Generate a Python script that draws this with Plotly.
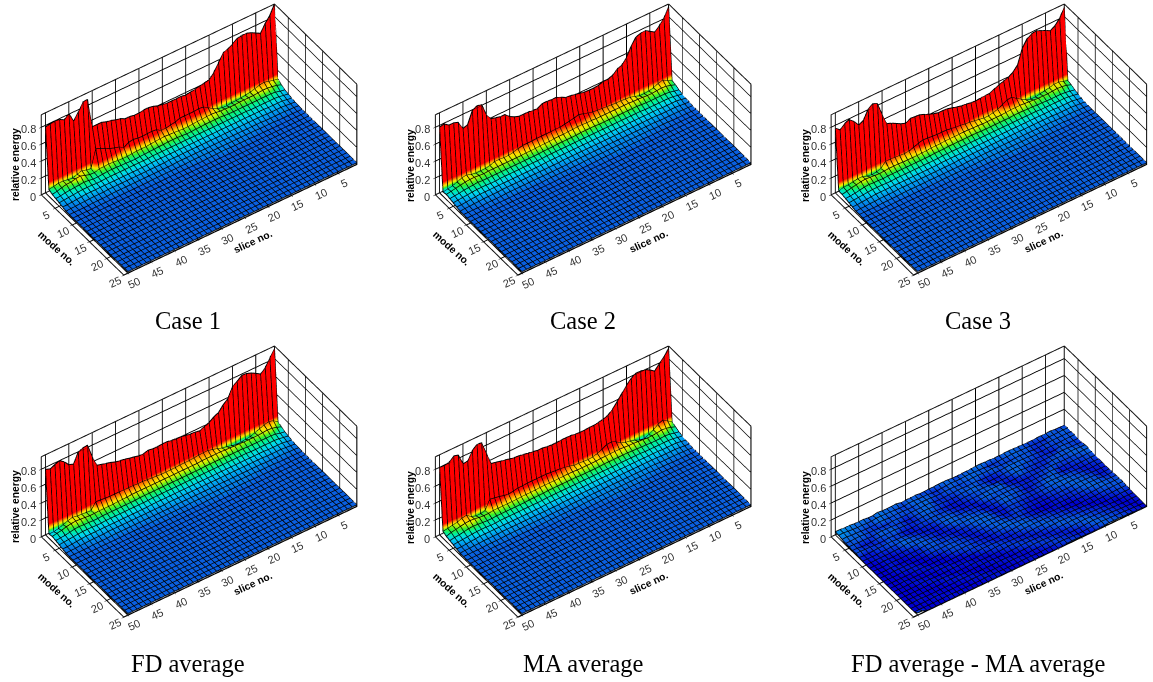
import plotly.graph_objects as go

SLICES = list(range(1, 51))
MODES = list(range(1, 26))
CAPTIONS = ["Case 1", "Case 2", "Case 3", "FD average", "MA average", "FD average - MA average"]
SLICE_TITLE, MODE_TITLE, ENERGY_TITLE = "slice no.", "mode no.", "relative energy"
SLICE_TICKS = [5, 10, 15, 20, 25, 30, 35, 40, 45, 50]
MODE_TICKS = [5, 10, 15, 20, 25]
ENERGY_TICKS = [0, .2, .4, .6, .8]
ENERGY_LABELS = ["0", "0.2", "0.4", "0.6", "0.8"]

# relative energy, slice 1..50
C1_M1 = [.95,.84,.77,.68,.71,.74,.76,.76,.75,.71,.68,.66,.57,.48,.42,.41,.40,.385,.38,.37,.38,.38,.38,.38,.39,.40,.42,.43,.43,.42,.42,.43,.43,.46,.47,.49,.50,.52,.52,.52,.87,.865,.77,.69,.81,.76,.79,.80,.79,.78]
C1_M2 = [.10,.11,.125,.14,.13,.115,.10,.09,.085,.08,.08,.07,.075,.09,.12,.155,.19,.195,.19,.19,.19,.19,.17,.16,.15,.147,.185,.19,.19,.185,.19,.20,.19,.155,.19,.205,.225,.25,.28,.30,.09,.10,.12,.10,.08,.09,.10,.10,.09,.08]
C1_M3 = [.07,.09,.10,.11,.11,.105,.10,.10,.10,.10,.095,.095,.10,.10,.11,.115,.115,.11,.11,.105,.10,.10,.105,.11,.11,.115,.115,.11,.105,.10,.10,.10,.095,.09,.09,.095,.10,.105,.10,.10,.08,.085,.10,.12,.115,.10,.10,.085,.07,.06]
C1_M4 = [.05,.06,.075,.08,.08,.08,.08,.08,.08,.08,.08,.08,.08,.085,.09,.09,.09,.09,.085,.085,.08,.08,.085,.09,.09,.09,.085,.085,.08,.08,.075,.075,.07,.07,.075,.075,.08,.08,.08,.075,.07,.07,.08,.085,.08,.075,.07,.065,.055,.05]

C2_M1 = [.92,.81,.745,.695,.73,.765,.76,.74,.66,.555,.49,.47,.42,.40,.40,.38,.375,.375,.38,.39,.405,.415,.42,.45,.475,.475,.48,.48,.45,.45,.46,.46,.46,.48,.51,.56,.56,.575,.59,.66,.81,.82,.79,.65,.63,.73,.75,.75,.79,.78]
C2_M2 = [.08,.11,.14,.125,.10,.09,.085,.085,.105,.12,.125,.13,.13,.135,.14,.145,.15,.155,.17,.19,.205,.19,.18,.17,.16,.16,.16,.16,.16,.16,.155,.155,.155,.14,.125,.115,.115,.12,.12,.10,.09,.09,.09,.10,.12,.11,.09,.07,.06,.05]
C2_M3 = [.07,.09,.105,.11,.105,.10,.10,.105,.11,.11,.115,.115,.115,.115,.115,.115,.115,.115,.12,.12,.125,.125,.12,.12,.115,.115,.115,.11,.11,.11,.105,.105,.105,.10,.10,.10,.10,.10,.10,.10,.10,.095,.10,.105,.105,.10,.09,.08,.07,.06]
C2_M4 = [.05,.06,.075,.08,.08,.08,.08,.08,.085,.09,.09,.09,.09,.09,.09,.09,.09,.09,.095,.095,.095,.095,.09,.09,.09,.09,.09,.085,.085,.085,.08,.08,.08,.08,.08,.08,.08,.08,.08,.08,.08,.08,.08,.085,.08,.075,.07,.06,.055,.05]

C3_M1 = [.915,.805,.745,.71,.74,.765,.79,.78,.745,.66,.49,.43,.395,.38,.36,.335,.31,.31,.305,.30,.305,.315,.32,.335,.35,.365,.37,.37,.385,.405,.43,.45,.455,.46,.43,.45,.48,.51,.53,.665,.82,.845,.805,.70,.67,.74,.79,.77,.72,.765]
C3_M2 = [.08,.10,.115,.115,.10,.09,.08,.07,.07,.09,.125,.16,.20,.195,.165,.135,.12,.11,.11,.12,.13,.14,.145,.155,.16,.17,.18,.18,.18,.185,.19,.195,.18,.16,.14,.135,.14,.145,.15,.15,.09,.075,.07,.08,.10,.10,.09,.08,.08,.06]
C3_M3 = [.07,.09,.10,.105,.10,.095,.095,.095,.10,.105,.11,.115,.115,.115,.11,.105,.105,.105,.105,.105,.11,.11,.115,.115,.115,.115,.115,.115,.11,.11,.11,.105,.105,.10,.10,.10,.10,.105,.105,.105,.10,.095,.10,.105,.11,.105,.095,.085,.07,.06]
C3_M4 = [.05,.06,.07,.075,.075,.075,.075,.08,.08,.085,.085,.09,.09,.09,.085,.085,.085,.085,.085,.085,.085,.09,.09,.09,.09,.09,.09,.09,.085,.085,.085,.08,.08,.08,.08,.08,.08,.08,.08,.08,.08,.075,.08,.08,.085,.08,.07,.06,.055,.05]

C4_M1 = [.92,.835,.745,.695,.73,.76,.78,.785,.74,.70,.585,.54,.475,.45,.41,.39,.365,.375,.38,.39,.40,.405,.41,.42,.42,.415,.415,.425,.41,.41,.425,.435,.45,.46,.47,.49,.505,.52,.535,.66,.825,.82,.795,.68,.70,.76,.80,.78,.755,.775]
C4_M2 = [.09,.13,.145,.13,.11,.09,.07,.065,.06,.06,.07,.085,.095,.115,.13,.145,.145,.14,.135,.13,.13,.13,.125,.125,.125,.125,.13,.135,.14,.145,.145,.15,.15,.15,.155,.155,.155,.16,.165,.17,.09,.095,.10,.105,.115,.10,.08,.06,.05,.05]
C4_M3 = [.07,.09,.105,.11,.105,.10,.10,.10,.10,.105,.105,.11,.11,.115,.115,.115,.115,.115,.11,.11,.11,.11,.11,.11,.11,.11,.11,.11,.11,.11,.11,.11,.11,.105,.105,.105,.10,.10,.10,.10,.095,.095,.10,.105,.11,.105,.095,.08,.07,.06]
C4_M4 = [.05,.06,.075,.08,.08,.08,.08,.08,.08,.085,.085,.085,.085,.09,.09,.09,.09,.09,.085,.085,.085,.085,.085,.085,.085,.085,.085,.085,.085,.085,.085,.085,.08,.08,.08,.08,.08,.08,.08,.08,.075,.075,.08,.08,.085,.08,.07,.06,.055,.05]

C5_M1 = [.92,.845,.79,.73,.77,.80,.81,.81,.775,.72,.65,.58,.515,.47,.45,.44,.43,.43,.425,.425,.43,.44,.44,.44,.435,.435,.44,.45,.45,.46,.47,.48,.49,.495,.505,.52,.53,.545,.555,.705,.855,.86,.815,.715,.71,.84,.855,.805,.795,.80]
C5_M2 = [.09,.13,.165,.14,.10,.07,.05,.06,.085,.10,.11,.13,.17,.195,.19,.16,.135,.12,.115,.12,.125,.125,.145,.155,.165,.17,.175,.18,.18,.18,.18,.18,.175,.175,.165,.155,.165,.18,.19,.20,.09,.08,.08,.10,.14,.13,.11,.10,.09,.08]
C5_M3 = [.07,.09,.105,.11,.10,.095,.095,.10,.105,.11,.11,.115,.12,.12,.12,.115,.115,.11,.11,.11,.11,.11,.115,.115,.115,.115,.115,.115,.115,.115,.11,.11,.11,.11,.105,.105,.105,.105,.105,.105,.095,.095,.10,.11,.115,.11,.10,.09,.08,.06]
C5_M4 = [.05,.06,.075,.08,.075,.075,.075,.08,.08,.085,.085,.09,.09,.09,.09,.09,.09,.085,.085,.085,.085,.085,.09,.09,.09,.09,.09,.09,.09,.085,.085,.085,.085,.08,.08,.08,.08,.08,.08,.08,.075,.075,.08,.085,.09,.085,.075,.065,.06,.05]

# outer band shared by the five large-amplitude panels
OUTER_M5 = [.04,.05,.06,.065,.065,.065,.065,.065,.065,.07,.07,.07,.07,.07,.07,.07,.07,.07,.07,.07,.07,.07,.07,.07,.07,.07,.07,.07,.07,.07,.065,.065,.065,.065,.065,.065,.065,.065,.065,.065,.06,.06,.065,.065,.065,.06,.055,.05,.045,.04]
OUTER_M6 = [.03,.04,.05,.05,.05,.05,.055,.055,.055,.055,.055,.055,.055,.055,.055,.055,.055,.055,.055,.055,.055,.055,.055,.055,.055,.055,.055,.055,.055,.055,.055,.05,.05,.05,.05,.05,.05,.05,.05,.05,.05,.05,.05,.05,.05,.045,.04,.035,.03,.03]
OUTER_M7 = [.025,.03,.035,.04,.04,.04,.04,.045,.045,.045,.045,.045,.045,.045,.045,.045,.045,.045,.045,.045,.045,.045,.045,.045,.045,.045,.045,.045,.04,.04,.04,.04,.04,.04,.04,.04,.04,.04,.04,.04,.04,.035,.035,.035,.035,.03,.03,.025,.025,.02]
OUTER_M8 = [.02,.025,.025,.03,.03,.03,.03,.03,.035,.035,.035,.035,.035,.035,.035,.035,.035,.035,.035,.035,.035,.035,.035,.035,.035,.035,.035,.03,.03,.03,.03,.03,.03,.03,.03,.03,.03,.03,.03,.03,.03,.025,.025,.025,.025,.02,.02,.02,.02,.02]
OUTER_M9 = [.018,.018,.02,.02,.02,.02,.025,.025,.025,.025,.03,.03,.03,.03,.03,.03,.03,.03,.03,.03,.03,.03,.03,.03,.03,.025,.025,.025,.025,.025,.025,.025,.025,.02,.02,.02,.02,.02,.02,.02,.02,.02,.02,.02,.02,.018,.018,.018,.018,.018]
OUTER_M10 = [.018,.018,.018,.018,.018,.018,.018,.018,.02,.02,.02,.02,.025,.025,.025,.025,.025,.03,.03,.025,.025,.025,.02,.02,.02,.02,.02,.02,.02,.02,.02,.018,.018,.018,.018,.018,.018,.018,.018,.018,.018,.018,.018,.018,.018,.018,.018,.018,.018,.018]
FLOOR_Z = [.018] * 50

# difference panel: one digit per slice, in units of 0.004
DIFF_ROWS = [
 "33354443344555445566544335554433544365557446668899",
 "45444222344554432244555445432244455334556644556798",
 "34444332244443334544554434443345553344435533345576",
 "44433331334455543322244344332225544433442223345544",
 "33344112233445543111335544222334554311334454233344",
 "23344433222335532222444433211123444222335444311133",
 "44554444222233311155544332111233443321113342223344",
 "55443334433221112344455411112344432211123344332112",
 "44333221443322223444433112233455421112345533221111",
 "33322111354432113445532113344454311223445422111100",
 "22211233445533223344421134455442111234543211011000",
 "22112344555443222233311245554321122344421110111001",
 "11123445544332111223311345543211233344321100011000",
 "21134455433221111123322445432112334433210001111000",
 "32244554322211000112334554321123344321100011110000",
 "33445543221111001123445543211223433210000111000000",
 "44454322110001122334554322112233321100011100001000",
 "44433211100112233445443211223332110001110000110000",
 "33322110011223344544321122333211001111000011100000",
 "22211001122334454432112233321100111000011110000000",
 "11100112233445443211223332110011100001111000000000",
 "11001122334544321122333211001110000111100000001100",
 "10011233445432112233321100111000011110000001100000",
 "00112334454321122332110011100001111000000110000000",
 "01123344432112233211001110000111100000011000000066",
]
DIFF_UNIT = .004
CASES = [
 [C1_M1, C1_M2, C1_M3, C1_M4],
 [C2_M1, C2_M2, C2_M3, C2_M4],
 [C3_M1, C3_M2, C3_M3, C3_M4],
 [C4_M1, C4_M2, C4_M3, C4_M4],
 [C5_M1, C5_M2, C5_M3, C5_M4],
]
OUTER = [OUTER_M5, OUTER_M6, OUTER_M7, OUTER_M8, OUTER_M9, OUTER_M10]

def panel_rows(i):
    if i < 5:
        return CASES[i] + OUTER + [FLOOR_Z] * 15
    return [[int(c) * DIFF_UNIT for c in row] for row in DIFF_ROWS]

XR, YR, ZR = [1, 51], [1, 25], [0, .95]
COLORS = [[0, "#0000d0"], [.11, "#0a5ee0"], [.25, "#00a0f0"], [.35, "#00d8f0"], [.45, "#00f0a0"], [.55, "#30f030"],
          [.65, "#d0f000"], [.72, "#ffe000"], [.85, "#ff8000"], [1, "#ff0000"]]
W, H = 1153, 682
DOMAIN_X = [(0, 389), (404, 782), (800, 1153), (0, 389), (404, 782), (800, 1153)]
BOX_X = [199, 593, 989, 199, 593, 989]
DOMAIN_Y = [(0, 300), (0, 300), (0, 300), (342, 642), (342, 642), (342, 642)]
PANEL_DX = [0, 395, 790, 0, 395, 790]
PANEL_DY = [0, 0, 0, 342, 342, 342]
CAP_X = [188, 583, 978, 188, 583, 978]
CAP_Y = [320, 320, 320, 663, 663, 663]
EYE = dict(x=.419, y=.60, z=.679)
K = 4
CZ = -.094
PX_PER_UNIT = 153
EDGE = .998  # keeps frame and labels just inside the clip bounds
TICK_FONT = dict(family="Liberation Sans", size=11, color="#333")

fig = go.Figure()
layout = dict(width=W, height=H, margin=dict(l=0, r=0, t=0, b=0), showlegend=False,
              paper_bgcolor="white", annotations=[])

def axis(tv, rng):
    return dict(title=dict(text=""), tickvals=tv, range=rng, autorange=False, showgrid=True, showticklabels=False,
                gridcolor="black", gridwidth=2, showbackground=False, showline=False, zeroline=False,
                ticks="outside", ticklen=2, tickcolor="#111", showspikes=False)

def note(text, x, y, size=10.3, angle=0, family="Liberation Sans"):
    return dict(text=text, xref="paper", yref="paper", x=x / W, y=1 - y / H, xanchor="center", yanchor="middle",
                showarrow=False, textangle=angle, font=dict(family=family, size=size, color="black"))

def tick_labels():
    out = []
    for s in SLICE_TICKS:
        out.append(dict(x=s, y=YR[1] * EDGE, z=.001, text=str(s), showarrow=False, font=TICK_FONT, textangle=-25,
                        xshift=6, yshift=-10))
    for m in MODE_TICKS:
        out.append(dict(x=XR[1] * EDGE, y=m * EDGE, z=.001, text=str(m), showarrow=False, font=TICK_FONT, textangle=-25,
                        xshift=-9, yshift=-7))
    for v, lab in zip(ENERGY_TICKS, ENERGY_LABELS):
        out.append(dict(x=XR[1] * EDGE, y=YR[0] / EDGE, z=v + .001, text=lab, showarrow=False, font=TICK_FONT,
                        xanchor="right", xshift=-3, yshift=-2))
    return out

for i in range(6):
    name = "scene" if i == 0 else "scene%d" % (i + 1)
    rows = panel_rows(i)
    fig.add_trace(go.Surface(x=SLICES, y=MODES, z=rows, scene=name, cmin=0, cmax=.16,
        colorscale=COLORS, showscale=False,
        lighting=dict(ambient=1, diffuse=0, specular=0, roughness=1, fresnel=0),
        contours=dict(x=dict(show=True, start=1, end=50, size=1, color="black", width=2, highlight=False),
                      y=dict(show=True, start=1, end=25, size=1, color="black", width=2, highlight=False),
                      z=dict(highlight=False))))
    # black mesh following the same surface values
    mx, my, mz = [], [], []
    for j, m in enumerate(MODES):
        mx += SLICES + [None]
        my += [m * EDGE if m == MODES[-1] else m] * len(SLICES) + [None]
        mz += list(rows[j]) + [None]
    for k, s in enumerate(SLICES):
        mx += [s] * len(MODES) + [None]
        my += [m * EDGE if m == MODES[-1] else m for m in MODES] + [None]
        mz += [rows[j][k] for j in range(len(MODES))] + [None]
    fig.add_trace(go.Scatter3d(x=mx, y=my, z=mz, mode="lines", line=dict(color="black", width=2),
                               scene=name, hoverinfo="skip"))
    a, b = XR[0] / EDGE, XR[1] * EDGE
    c, d = YR[0] / EDGE, YR[1] * EDGE
    t = ZR[1] * EDGE
    f = .001
    fig.add_trace(go.Scatter3d(
        x=[a, b, b, a, a, a, b, None, a, a, None, b, b, None, a, a],
        y=[c, c, d, d, c, c, c, None, d, d, None, c, c, None, c, d],
        z=[f, f, f, f, f, t, t, None, f, t, None, f, t, None, t, t],
        mode="lines", line=dict(color="#111", width=2), scene=name, hoverinfo="skip"))
    x0, x1 = DOMAIN_X[i]
    y0, y1 = DOMAIN_Y[i]
    # shift the view sideways when the box is not centred in its domain
    shift = (BOX_X[i] - (x0 + x1) / 2) / PX_PER_UNIT
    cen = dict(x=.82 * shift, y=-.57 * shift, z=CZ)
    layout[name] = dict(
        domain=dict(x=[x0 / W, x1 / W], y=[1 - y1 / H, 1 - y0 / H]),
        xaxis=axis(SLICE_TICKS, XR),
        yaxis=axis(MODE_TICKS, YR),
        zaxis=axis(ENERGY_TICKS, ZR),
        annotations=tick_labels(),
        aspectmode="manual", aspectratio=dict(x=1.9, y=.961, z=.73),
        camera=dict(projection=dict(type="orthographic"), up=dict(x=0, y=0, z=1), center=cen,
                    eye=dict(x=EYE["x"] * K + cen["x"], y=EYE["y"] * K + cen["y"], z=EYE["z"] * K + cen["z"])))
    dx, dy = PANEL_DX[i], PANEL_DY[i]
    layout["annotations"] += [
        note(CAPTIONS[i], CAP_X[i], CAP_Y[i], size=24.5, family="Liberation Serif"),
        note("<b>%s</b>" % SLICE_TITLE, 253 + dx, 241 + dy, angle=-25),
        note("<b>%s</b>" % MODE_TITLE, 57 + dx, 248 + dy, angle=42),
        note("<b>%s</b>" % ENERGY_TITLE, 15 + dx, 165 + dy, angle=-90),
    ]
fig.update_layout(**layout)
fig.write_html("out.html", post_script="document.body.style.margin='0';", config=dict(displayModeBar=False))
